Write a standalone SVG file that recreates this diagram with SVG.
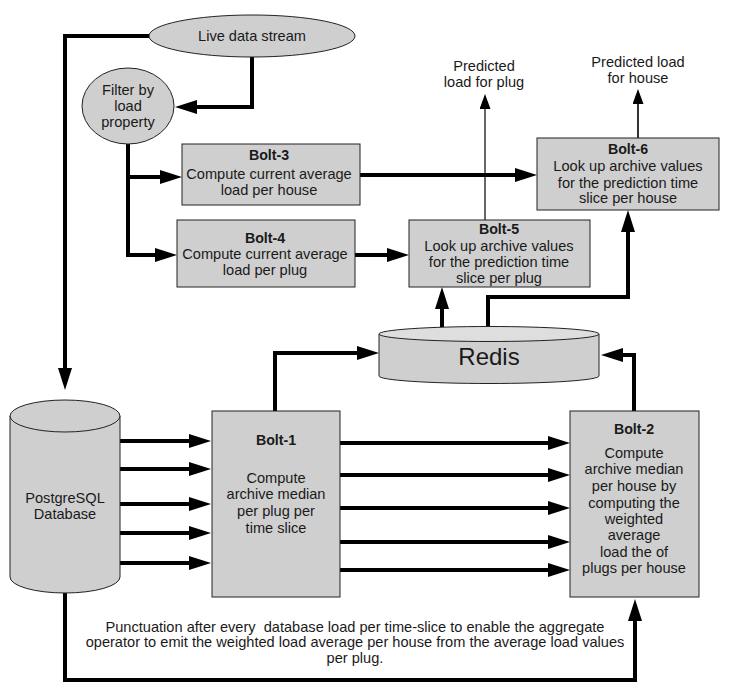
<svg xmlns="http://www.w3.org/2000/svg" width="729" height="686" viewBox="0 0 729 686">
<style>
.bg{fill:#ffffff}
.box{fill:#cfcfcf;stroke:#222;stroke-width:1}
.cap{fill:#dedede;stroke:#222;stroke-width:1}
.t{font-family:"Liberation Sans",Arial,sans-serif;font-size:14.6px;fill:#1a1a1a;text-anchor:middle}
.b{font-weight:bold;font-size:14.2px}
.big{font-size:24px}
.c{fill:none;stroke:#000;stroke-width:4;stroke-linejoin:miter}
.thin{fill:none;stroke:#000;stroke-width:1.2}
</style>
<defs>
<marker id="ah" viewBox="0 0 22 14" refX="12" refY="7" markerWidth="22" markerHeight="14" markerUnits="userSpaceOnUse" orient="auto">
<path d="M0,0 L22,7 L0,14 z" fill="#000"/>
</marker>
<marker id="ahs" viewBox="0 0 15 11" refX="1" refY="5.5" markerWidth="15" markerHeight="11" markerUnits="userSpaceOnUse" orient="auto">
<path d="M0,0 L15,5.5 L0,11 z" fill="#000"/>
</marker>
</defs>
<rect class="bg" x="0" y="0" width="729" height="686"/>

<g id="connectors">
<path class="c" d="M149,36 H65 V380" marker-end="url(#ah)"/>
<path class="c" d="M252,57 V107 H185" marker-end="url(#ah)"/>
<path class="c" d="M128,144 V255 H167" marker-end="url(#ah)"/>
<path class="c" d="M128,177 H172" marker-end="url(#ah)"/>
<path class="c" d="M360,175 H527" marker-end="url(#ah)"/>
<path class="c" d="M355,255 H399" marker-end="url(#ah)"/>
<path class="thin" d="M485,220 V108" marker-end="url(#ahs)"/>
<path class="thin" d="M638,138 V103" marker-end="url(#ahs)" style="stroke-width:1.6"/>
<path class="c" d="M442,327 V297" marker-end="url(#ah)"/>
<path class="c" d="M488,327 V297 H628 V220" marker-end="url(#ah)"/>
<path class="c" d="M275,411 V353 H369" marker-end="url(#ah)"/>
<path class="c" d="M634,411 V355 H611" marker-end="url(#ah)"/>
<path class="c" d="M120,441 H201" marker-end="url(#ah)"/>
<path class="c" d="M120,469 H201" marker-end="url(#ah)"/>
<path class="c" d="M120,504 H201" marker-end="url(#ah)"/>
<path class="c" d="M120,533 H201" marker-end="url(#ah)"/>
<path class="c" d="M120,563 H201" marker-end="url(#ah)"/>
<path class="c" d="M340,443 H560" marker-end="url(#ah)"/>
<path class="c" d="M340,475 H560" marker-end="url(#ah)"/>
<path class="c" d="M340,508 H560" marker-end="url(#ah)"/>
<path class="c" d="M340,542 H560" marker-end="url(#ah)"/>
<path class="c" d="M340,570 H560" marker-end="url(#ah)"/>
<path class="c" d="M65,593 V680 H635 V609" marker-end="url(#ah)"/>
</g>

<g id="live">
<ellipse class="box" cx="252" cy="36" rx="103" ry="21"/>
<text class="t" x="252" y="41">Live data stream</text>
</g>

<g id="filter">
<ellipse class="box" cx="128" cy="106" rx="46" ry="38"/>
<text class="t" x="128" y="95">Filter by</text>
<text class="t" x="128" y="111">load</text>
<text class="t" x="128" y="127">property</text>
</g>

<g id="bolt3">
<rect class="box" x="182" y="144" width="178" height="61"/>
<text class="t b" x="269" y="160">Bolt-3</text>
<text class="t" x="269" y="179">Compute current average</text>
<text class="t" x="269" y="195">load per house</text>
</g>

<g id="bolt4">
<rect class="box" x="177" y="220" width="178" height="67"/>
<text class="t b" x="265" y="243">Bolt-4</text>
<text class="t" x="265" y="259">Compute current average</text>
<text class="t" x="265" y="275">load per plug</text>
</g>

<g id="bolt5">
<rect class="box" x="409" y="220" width="181" height="67"/>
<text class="t b" x="499" y="234">Bolt-5</text>
<text class="t" x="499" y="251">Look up archive values</text>
<text class="t" x="499" y="267">for the prediction time</text>
<text class="t" x="499" y="283">slice per plug</text>
</g>

<g id="bolt6">
<rect class="box" x="537" y="138" width="182" height="72"/>
<text class="t b" x="628" y="154">Bolt-6</text>
<text class="t" x="628" y="171">Look up archive values</text>
<text class="t" x="628" y="188">for the prediction time</text>
<text class="t" x="628" y="203">slice per house</text>
</g>

<g id="pred-plug">
<text class="t" x="484" y="71">Predicted</text>
<text class="t" x="484" y="87">load for plug</text>
</g>

<g id="pred-house">
<text class="t" x="638" y="67">Predicted load</text>
<text class="t" x="638" y="83">for house</text>
</g>

<g id="redis">
<path class="box" d="M379,334 V376 A110,7.5 0 0 0 599,376 V334"/>
<ellipse class="cap" cx="489" cy="334" rx="110" ry="7.5"/>
<text class="t big" x="489" y="365">Redis</text>
</g>

<g id="postgres">
<path class="box" d="M10,416 V577 A55,16 0 0 0 120,577 V416"/>
<ellipse class="box" cx="65" cy="416" rx="55" ry="16"/>
<text class="t" x="65" y="503">PostgreSQL</text>
<text class="t" x="65" y="519">Database</text>
</g>

<g id="bolt1">
<rect class="box" x="212" y="411" width="128" height="186"/>
<text class="t b" x="276" y="445">Bolt-1</text>
<text class="t" x="276" y="483">Compute</text>
<text class="t" x="276" y="499">archive median</text>
<text class="t" x="276" y="516">per plug per</text>
<text class="t" x="276" y="533">time slice</text>
</g>

<g id="bolt2">
<rect class="box" x="570" y="411" width="129" height="186"/>
<text class="t b" x="634" y="434">Bolt-2</text>
<text class="t" x="634" y="458">Compute</text>
<text class="t" x="634" y="474">archive median</text>
<text class="t" x="634" y="491">per house by</text>
<text class="t" x="634" y="508">computing the</text>
<text class="t" x="634" y="524">weighted</text>
<text class="t" x="634" y="540">average</text>
<text class="t" x="634" y="557">load the of</text>
<text class="t" x="634" y="573">plugs per house</text>
</g>

<g id="note">
<text class="t" x="355" y="632" xml:space="preserve">Punctuation after every  database load per time-slice to enable the aggregate</text>
<text class="t" x="355" y="647">operator to emit the weighted load average per house from the average load values</text>
<text class="t" x="355" y="663">per plug.</text>
</g>
</svg>
